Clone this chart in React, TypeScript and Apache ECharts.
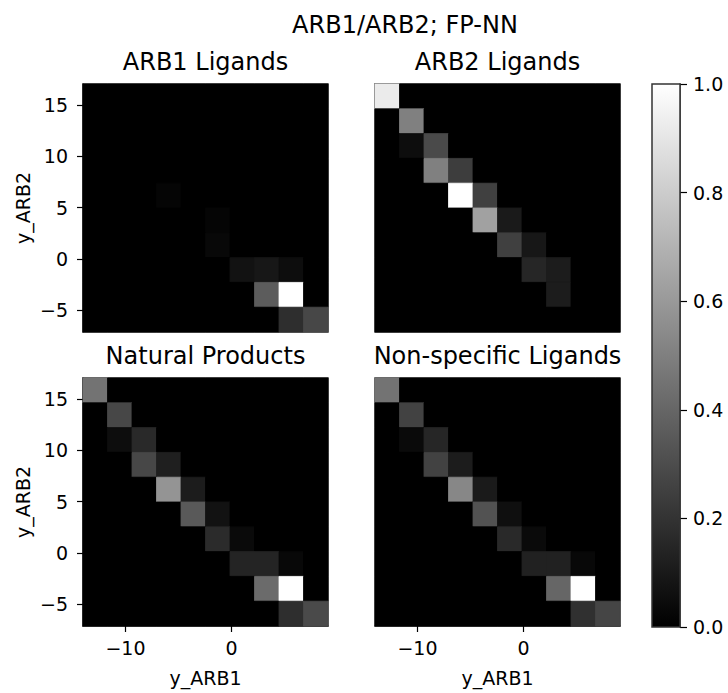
import React, { useEffect, useRef } from "react";
import * as echarts from "echarts";

// Bin edges of the 2D histograms (10 x 10 bins)
const xEdges = [-14.0, -11.69, -9.38, -7.07, -4.76, -2.45, -0.14, 2.17, 4.48, 6.79, 9.1];
const yEdges = [-7.1, -4.685, -2.27, 0.145, 2.56, 4.975, 7.39, 9.805, 12.22, 14.635, 17.05];

const xTicks = [-10, 0];
const yTicks = [-5, 0, 5, 10, 15];
const colorbarTicks = [0, 0.2, 0.4, 0.6, 0.8, 1.0];

const mainTitle = "ARB1/ARB2; FP-NN";
const panelTitles = ["ARB1 Ligands", "ARB2 Ligands", "Natural Products", "Non-specific Ligands"];
const xName = "y_ARB1";
const yName = "y_ARB2";

// Normalised counts, rows listed from top (highest y_ARB2 bin) to bottom
const arb1Ligands = [
  [0, 0, 0, 0, 0, 0, 0, 0, 0, 0],
  [0, 0, 0, 0, 0, 0, 0, 0, 0, 0],
  [0, 0, 0, 0, 0, 0, 0, 0, 0, 0],
  [0, 0, 0, 0, 0, 0, 0, 0, 0, 0],
  [0, 0, 0, 0.02, 0, 0, 0, 0, 0, 0],
  [0, 0, 0, 0, 0, 0.02, 0, 0, 0, 0],
  [0, 0, 0, 0, 0, 0.03, 0, 0, 0, 0],
  [0, 0, 0, 0, 0, 0, 0.07, 0.09, 0.05, 0],
  [0, 0, 0, 0, 0, 0, 0, 0.36, 1.0, 0],
  [0, 0, 0, 0, 0, 0, 0, 0, 0.18, 0.28],
];

const arb2Ligands = [
  [0.92, 0, 0, 0, 0, 0, 0, 0, 0, 0],
  [0, 0.5, 0, 0, 0, 0, 0, 0, 0, 0],
  [0, 0.05, 0.29, 0, 0, 0, 0, 0, 0, 0],
  [0, 0, 0.5, 0.24, 0, 0, 0, 0, 0, 0],
  [0, 0, 0, 1.0, 0.25, 0, 0, 0, 0, 0],
  [0, 0, 0, 0, 0.63, 0.1, 0, 0, 0, 0],
  [0, 0, 0, 0, 0, 0.25, 0.09, 0, 0, 0],
  [0, 0, 0, 0, 0, 0, 0.15, 0.11, 0, 0],
  [0, 0, 0, 0, 0, 0, 0, 0.11, 0, 0],
  [0, 0, 0, 0, 0, 0, 0, 0, 0, 0],
];

const naturalProducts = [
  [0.45, 0, 0, 0, 0, 0, 0, 0, 0, 0],
  [0, 0.28, 0, 0, 0, 0, 0, 0, 0, 0],
  [0, 0.05, 0.16, 0, 0, 0, 0, 0, 0, 0],
  [0, 0, 0.28, 0.12, 0, 0, 0, 0, 0, 0],
  [0, 0, 0, 0.58, 0.11, 0, 0, 0, 0, 0],
  [0, 0, 0, 0, 0.35, 0.07, 0, 0, 0, 0],
  [0, 0, 0, 0, 0, 0.17, 0.04, 0, 0, 0],
  [0, 0, 0, 0, 0, 0, 0.14, 0.14, 0.03, 0],
  [0, 0, 0, 0, 0, 0, 0, 0.42, 1.0, 0],
  [0, 0, 0, 0, 0, 0, 0, 0, 0.18, 0.29],
];

const nonSpecificLigands = [
  [0.45, 0, 0, 0, 0, 0, 0, 0, 0, 0],
  [0, 0.26, 0, 0, 0, 0, 0, 0, 0, 0],
  [0, 0.04, 0.15, 0, 0, 0, 0, 0, 0, 0],
  [0, 0, 0.26, 0.11, 0, 0, 0, 0, 0, 0],
  [0, 0, 0, 0.53, 0.1, 0, 0, 0, 0, 0],
  [0, 0, 0, 0, 0.32, 0.06, 0, 0, 0, 0],
  [0, 0, 0, 0, 0, 0.16, 0.04, 0, 0, 0],
  [0, 0, 0, 0, 0, 0, 0.13, 0.13, 0.03, 0],
  [0, 0, 0, 0, 0, 0, 0, 0.4, 1.0, 0],
  [0, 0, 0, 0, 0, 0, 0, 0, 0.19, 0.27],
];

const panelData = [arb1Ligands, arb2Ligands, naturalProducts, nonSpecificLigands];

const FONT = '"DejaVu Sans", "Noto Sans", sans-serif';
const SPINE = "#333333";

function toCells(m: number[][]) {
  const out: number[][] = [];
  const n = m.length;
  for (let r = 0; r < n; r++) {
    const j = n - 1 - r;
    for (let i = 0; i < m[r].length; i++) {
      out.push([xEdges[i], xEdges[i + 1], yEdges[j], yEdges[j + 1], m[r][i]]);
    }
  }
  return out;
}

const minusFmt = (v: number) => String(v).replace("-", "\u2212");

export default function App() {
  const ref = useRef<HTMLDivElement>(null);

  useEffect(() => {
    if (!ref.current) return;
    const chart = echarts.init(ref.current, undefined, { renderer: "svg" });

    const layout = [
      { left: 83, top: 84 },
      { left: 375, top: 84 },
      { left: 83, top: 378 },
      { left: 375, top: 378 },
    ];
    const W = 245;
    const H = 248;

    const grids: any[] = layout.map((p) => ({
      left: p.left,
      top: p.top,
      width: W,
      height: H,
      show: true,
      borderColor: SPINE,
      borderWidth: 1.5,
      backgroundColor: "#000000",
      containLabel: false,
    }));
    grids.push({ left: 652, top: 84, width: 28, height: 543, show: false });

    const xAxes: any[] = layout.map((_, k) => {
      const bottom = k >= 2;
      return {
        type: "value",
        gridIndex: k,
        position: "bottom",
        min: xEdges[0],
        max: xEdges[xEdges.length - 1],
        axisLine: { show: bottom, onZero: false, lineStyle: { color: SPINE, width: 1.5 } },
        splitLine: { show: false },
        axisTick: {
          show: bottom,
          customValues: xTicks,
          length: 6,
          lineStyle: { color: "#000", width: 1.2 },
        },
        axisLabel: {
          show: bottom,
          customValues: xTicks,
          formatter: minusFmt,
          margin: 12,
          fontSize: 19,
          fontFamily: FONT,
          color: "#000",
        },
        name: bottom ? xName : "",
        nameLocation: "middle",
        nameGap: 42,
        nameTextStyle: { fontSize: 19, fontFamily: FONT, color: "#000" },
      };
    });
    xAxes.push({ type: "value", gridIndex: 4, min: 0, max: 1, show: false });

    const yAxes: any[] = layout.map((_, k) => {
      const left = k % 2 === 0;
      return {
        type: "value",
        gridIndex: k,
        position: "left",
        min: yEdges[0],
        max: yEdges[yEdges.length - 1],
        axisLine: { show: left, onZero: false, lineStyle: { color: SPINE, width: 1.5 } },
        splitLine: { show: false },
        axisTick: {
          show: left,
          customValues: yTicks,
          length: 6,
          lineStyle: { color: "#000", width: 1.2 },
        },
        axisLabel: {
          show: left,
          customValues: yTicks,
          formatter: minusFmt,
          margin: 15,
          fontSize: 19,
          fontFamily: FONT,
          color: "#000",
        },
        name: left ? yName : "",
        nameLocation: "middle",
        nameGap: 51,
        nameRotate: 90,
        nameTextStyle: { fontSize: 19, fontFamily: FONT, color: "#000" },
      };
    });
    yAxes.push({
      type: "value",
      gridIndex: 4,
      position: "right",
      min: 0,
      max: 1,
      interval: 0.2,
      axisLine: { show: true, onZero: false, lineStyle: { color: SPINE, width: 1.5 } },
      splitLine: { show: false },
      axisTick: { show: true, inside: false, length: 7, lineStyle: { color: "#000", width: 1.2 } },
      axisLabel: {
        formatter: (v: number) => v.toFixed(1),
        margin: 13,
        fontSize: 19,
        fontFamily: FONT,
        color: "#000",
      },
    });

    const cellSeries: any[] = panelData.map((m, k) => ({
      type: "custom",
      xAxisIndex: k,
      yAxisIndex: k,
      dimensions: ["x0", "x1", "y0", "y1", "v"],
      encode: { x: [0, 1], y: [2, 3] },
      data: toCells(m),
      renderItem: (params: any, api: any) => {
        const p0 = api.coord([api.value(0), api.value(3)]);
        const p1 = api.coord([api.value(1), api.value(2)]);
        const c = api.visual("color");
        return {
          type: "rect",
          shape: { x: p0[0], y: p0[1], width: p1[0] - p0[0], height: p1[1] - p0[1] },
          style: { fill: c, stroke: c, lineWidth: 0.8 },
        };
      },
      silent: true,
    }));

    const colorbarSeries = {
      type: "custom",
      xAxisIndex: 4,
      yAxisIndex: 4,
      dimensions: ["x0", "x1", "y0", "y1"],
      encode: { x: [0, 1], y: [2, 3] },
      data: [[0, 1, colorbarTicks[0], colorbarTicks[colorbarTicks.length - 1]]],
      renderItem: (params: any, api: any) => {
        const p0 = api.coord([api.value(0), api.value(3)]);
        const p1 = api.coord([api.value(1), api.value(2)]);
        return {
          type: "rect",
          shape: { x: p0[0], y: p0[1], width: p1[0] - p0[0], height: p1[1] - p0[1] },
          style: {
            fill: new echarts.graphic.LinearGradient(0, 0, 0, 1, [
              { offset: 0, color: "#ffffff" },
              { offset: 1, color: "#000000" },
            ]),
            stroke: SPINE,
            lineWidth: 1.5,
          },
        };
      },
      silent: true,
      z: 1,
    };

    const titleGraphics: any[] = [
      {
        type: "text",
        x: 405,
        y: 24.5,
        style: {
          text: mainTitle,
          fontSize: 24,
          fontFamily: FONT,
          fill: "#000",
          align: "center",
          verticalAlign: "middle",
        },
      },
      ...layout.map((p, k) => ({
        type: "text",
        x: p.left + W / 2,
        y: p.top - 22,
        style: {
          text: panelTitles[k],
          fontSize: 24,
          fontFamily: FONT,
          fill: "#000",
          align: "center",
          verticalAlign: "middle",
        },
      })),
    ];

    chart.setOption({
      animation: false,
      backgroundColor: "#ffffff",
      grid: grids,
      xAxis: xAxes,
      yAxis: yAxes,
      visualMap: {
        type: "continuous",
        show: false,
        min: 0,
        max: 1,
        dimension: 4,
        seriesIndex: [0, 1, 2, 3],
        inRange: { color: ["#000000", "#ffffff"] },
      },
      graphic: titleGraphics,
      series: [...cellSeries, colorbarSeries],
    });

    return () => chart.dispose();
  }, []);

  return (
    <div
      ref={ref}
      style={{ position: "absolute", left: 0, top: 0, width: 728, height: 693, background: "#fff" }}
    />
  );
}
